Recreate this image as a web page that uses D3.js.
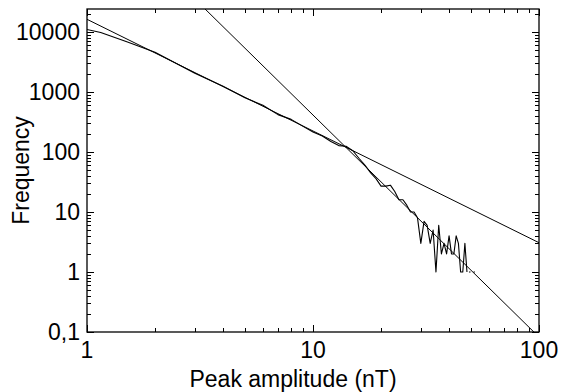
<!DOCTYPE html>
<html>
<head>
<meta charset="utf-8">
<script src="https://cdn.jsdelivr.net/npm/d3@7"></script>
<style>
  html, body { margin: 0; padding: 0; background: #fff; }
  svg { display: block; }
  text { font-family: "Liberation Sans", Arial, Helvetica, sans-serif; fill: #000; }
</style>
</head>
<body>
<svg id="chart" width="561" height="392"></svg>
<script>
// ---- data ----
const amplitude = [1,1.15,1.5,2,3,4,5,6,7,8,9,10,11,12,13,14,15,16,17,18,19,20,21,22,23,24,25,26,27,28,29,30,31,32,33,34,35,36,37,38,39,40,41,42,43,44,45,46,47,48];
const frequency = [11000,9800,6900,4600,2050,1250,800,600,420,350,270,215,185,150,128,125,105,78,60,45,36,27,27,28,22,16,16,13,10,10,8,3,7,6,3,5,1,6,2,3,2,4,2,2,4,3,1,1,3,1];
const tailDotsX = [49, 53];
const tailDotsY = [1, 1];
const fitShallowX = [1, 100];
const fitShallowY = [16300, 3.08];
const fitSteepX = [3, 100];
const fitSteepY = [35600, 0.0824];
const xTickLabels = [1, 10, 100];
const yTickLabels = [0.1, 1, 10, 100, 1000, 10000];

// ---- layout ----
const W = 561, H = 392;
const L = 87, R = 539, T = 9, B = 332;
const svg = d3.select("#chart");

const x = d3.scaleLog().domain([1, 100]).range([L, R]);
const y = d3.scaleLog().domain([0.1, 24200]).range([B, T]);

svg.append("clipPath").attr("id", "plotclip")
  .append("rect").attr("x", L).attr("y", T).attr("width", R - L).attr("height", B - T);

const g = svg.append("g").attr("clip-path", "url(#plotclip)");
const line = d3.line().x(d => x(d[0])).y(d => y(d[1]));

g.append("path")
  .attr("d", line(fitShallowX.map((v, i) => [v, fitShallowY[i]])))
  .attr("fill", "none").attr("stroke", "#000").attr("stroke-width", 1);
g.append("path")
  .attr("d", line(fitSteepX.map((v, i) => [v, fitSteepY[i]])))
  .attr("fill", "none").attr("stroke", "#000").attr("stroke-width", 1);
g.append("path")
  .attr("d", line(amplitude.map((v, i) => [v, frequency[i]])))
  .attr("fill", "none").attr("stroke", "#000").attr("stroke-width", 1.1)
  .attr("stroke-linejoin", "round");
g.append("path")
  .attr("d", line(tailDotsX.map((v, i) => [v, tailDotsY[i]])))
  .attr("fill", "none").attr("stroke", "#000").attr("stroke-width", 1)
  .attr("stroke-dasharray", "1.5,3");

// ---- ticks (inward, all four sides) ----
function minorVals(lo, hi) {
  const out = [];
  for (let d = lo; d < hi; d *= 10) {
    for (let k = 1; k < 10; k++) out.push(d * k);
  }
  return out;
}
const majorLen = 7, minorLen = 4;
const ticksG = svg.append("g").attr("stroke", "#000").attr("stroke-width", 1);

const xt = minorVals(1, 100).concat([100]);
xt.forEach(v => {
  const isMajor = xTickLabels.includes(v);
  const len = isMajor ? majorLen : minorLen;
  const px = Math.round(x(v)) + 0.5;
  ticksG.append("line").attr("x1", px).attr("x2", px).attr("y1", B).attr("y2", B - len);
  ticksG.append("line").attr("x1", px).attr("x2", px).attr("y1", T).attr("y2", T + len);
});
const yt = minorVals(0.1, 100000).filter(v => v <= 24200);
yt.forEach(v => {
  const isMajor = yTickLabels.some(t => Math.abs(t - v) / t < 1e-6);
  const len = isMajor ? majorLen : minorLen;
  const py = Math.round(y(v)) + 0.5;
  ticksG.append("line").attr("x1", L).attr("x2", L + len).attr("y1", py).attr("y2", py);
  ticksG.append("line").attr("x1", R).attr("x2", R - len).attr("y1", py).attr("y2", py);
});

// frame
svg.append("rect").attr("x", L).attr("y", T).attr("width", R - L).attr("height", B - T)
  .attr("fill", "none").attr("stroke", "#000").attr("stroke-width", 1.3);

// ---- labels ----
const fs = 23;
const fmt = v => v < 1 ? String(v).replace(".", ",") : String(v);
svg.append("g").selectAll("text").data(xTickLabels).join("text")
  .attr("x", d => x(d)).attr("y", 358)
  .attr("text-anchor", "middle").attr("font-size", fs).text(fmt);
svg.append("g").selectAll("text").data(yTickLabels).join("text")
  .attr("x", 80).attr("y", d => y(d)).attr("dy", "0.36em")
  .attr("text-anchor", "end").attr("font-size", fs).text(fmt);

svg.append("text").attr("x", 293).attr("y", 387)
  .attr("text-anchor", "middle").attr("font-size", fs).text("Peak amplitude (nT)");
svg.append("text")
  .attr("transform", `translate(29, ${(T + B) / 2}) rotate(-90)`)
  .attr("text-anchor", "middle").attr("font-size", fs).text("Frequency");
</script>
</body>
</html>
